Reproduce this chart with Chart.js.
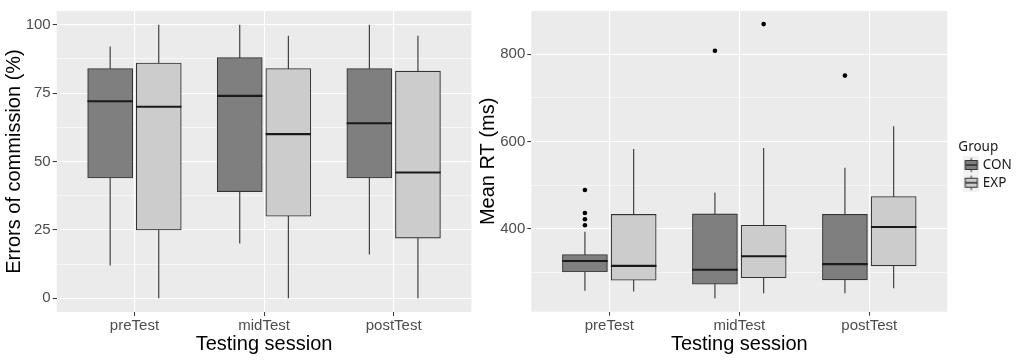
<!DOCTYPE html>
<html>
<head>
<meta charset="utf-8">
<script src="https://cdn.jsdelivr.net/npm/chart.js@4.4.1/dist/chart.umd.min.js"></script>
<style>
  html, body { margin: 0; padding: 0; background: #ffffff; width: 1021px; height: 363px; overflow: hidden; }
  #errChart { position: absolute; left: 0; top: 0; width: 475px; height: 363px; }
  #rtChart { position: absolute; left: 475px; top: 0; width: 546px; height: 363px; }
</style>
</head>
<body>
<canvas id="errChart" width="475" height="363"></canvas>
<canvas id="rtChart" width="546" height="363"></canvas>
<script>
// ---------------- DATA ----------------
const sessions = ['preTest', 'midTest', 'postTest'];
const groups = ['CON', 'EXP'];

// Panel 1: Errors of commission (%)
const errTicks = [0, 25, 50, 75, 100];
const errCON_low      = [12, 20, 16];
const errCON_q1       = [44, 39, 44];
const errCON_median   = [72, 74, 64];
const errCON_q3       = [84, 88, 84];
const errCON_high     = [92, 100, 100];
const errCON_outliers = [[], [], []];
const errEXP_low      = [0, 0, 0];
const errEXP_q1       = [25, 30, 22];
const errEXP_median   = [70, 60, 46];
const errEXP_q3       = [86, 84, 83];
const errEXP_high     = [100, 96, 96];
const errEXP_outliers = [[], [], []];

// Panel 2: Mean RT (ms)
const rtTicks = [400, 600, 800];
const rtCON_low      = [258, 241, 252];
const rtCON_q1       = [301, 273, 283];
const rtCON_median   = [326, 306, 319];
const rtCON_q3       = [341, 434, 433];
const rtCON_high     = [393, 483, 540];
const rtCON_outliers = [[489, 436, 422, 408], [808], [751]];
const rtEXP_low      = [256, 252, 264];
const rtEXP_q1       = [282, 288, 315];
const rtEXP_median   = [315, 337, 404];
const rtEXP_q3       = [433, 408, 474];
const rtEXP_high     = [583, 585, 635];
const rtEXP_outliers = [[], [869], []];

// ---------------- STYLE ----------------
const FONT = "'Liberation Sans', Arial, Helvetica, sans-serif";
const LEGEND_FONT = "'Noto Sans', 'Open Sans', sans-serif";
const FILLS = ['#7f7f7f', '#cccccc'];
const LINE = '#333333';
const DODGE = 0.1875;   // half of dodge width 0.375
const HALF = 0.175;     // half box width (0.35)

const panelBg = {
  id: 'panelBg',
  beforeDraw(chart) {
    const { ctx, chartArea: a } = chart;
    ctx.save();
    ctx.fillStyle = '#ebebeb';
    ctx.fillRect(a.left, a.top, a.right - a.left, a.bottom - a.top);
    ctx.restore();
  }
};

function makeGlyph(fill) {
  const c = document.createElement('canvas');
  c.width = 16; c.height = 18;
  const g = c.getContext('2d');
  g.fillStyle = '#f2f2f2';
  g.fillRect(0, 0, 16, 18);
  g.strokeStyle = LINE;
  g.lineWidth = 1;
  g.beginPath();
  g.moveTo(8, 1.8); g.lineTo(8, 4.5);
  g.moveTo(8, 13.5); g.lineTo(8, 16.2);
  g.stroke();
  g.fillStyle = fill;
  g.fillRect(1.6, 4.5, 12.8, 9);
  g.strokeRect(2, 4.5, 12, 9);
  g.lineWidth = 1.6;
  g.beginPath(); g.moveTo(2, 9); g.lineTo(14, 9); g.stroke();
  return c;
}

const groupLegend = {
  id: 'groupLegend',
  afterDraw(chart, args, o) {
    if (!o || !o.items) return;
    const ctx = chart.ctx;
    ctx.save();
    ctx.font = '13.5px ' + LEGEND_FONT;
    ctx.fillStyle = '#1a1a1a';
    ctx.textBaseline = 'middle';
    ctx.textAlign = 'left';
    ctx.fillText(o.title, o.x, o.titleY);
    o.items.forEach((it, i) => {
      const y = o.firstY + i * o.step;
      ctx.drawImage(it.glyph, o.x + o.keyDx, y - it.glyph.height / 2);
      ctx.fillText(it.text, o.x + o.textDx, y);
    });
    ctx.restore();
  }
};

function minorTicks(ticks, min, max) {
  const step = ticks[1] - ticks[0];
  const out = [];
  for (let v = ticks[0] - step / 2; v <= ticks[ticks.length - 1] + step / 2; v += step) {
    if (v >= min && v <= max) out.push(v);
  }
  return out;
}

function buildPanel(canvasId, p) {
  const datasets = [];
  p.groups.forEach((gr, g) => {
    const dx = g === 0 ? -DODGE : DODGE;
    const xs = sessions.map((s, i) => i + 1 + dx);
    datasets.push({
      type: 'line', order: 4,
      data: xs.flatMap((x, i) => [{ x, y: gr.low[i] }, { x, y: gr.high[i] }, { x, y: null }]),
      borderColor: LINE, borderWidth: 1.1, pointRadius: 0, spanGaps: false, fill: false
    });
    datasets.push({
      type: 'bar', order: 3,
      data: xs.map((x, i) => ({ x, y: [gr.q1[i], gr.q3[i]] })),
      backgroundColor: FILLS[g], borderColor: LINE, borderWidth: 1.1,
      borderSkipped: false, grouped: false, barThickness: p.barPx
    });
    datasets.push({
      type: 'line', order: 2,
      data: xs.flatMap((x, i) => [{ x: x - HALF, y: gr.median[i] }, { x: x + HALF, y: gr.median[i] }, { x: x + HALF, y: null }]),
      borderColor: '#1a1a1a', borderWidth: 2.1, pointRadius: 0, spanGaps: false, fill: false
    });
    datasets.push({
      type: 'scatter', order: 1,
      data: xs.flatMap((x, i) => gr.outliers[i].map(v => ({ x, y: v }))),
      pointRadius: 2.3, pointBackgroundColor: '#000', pointBorderWidth: 0, showLine: false
    });
  });

  const minors = minorTicks(p.ticks, p.min, p.max);
  const isMajor = v => p.ticks.includes(v);

  return new Chart(document.getElementById(canvasId), {
    type: 'bar',
    data: { datasets },
    plugins: [panelBg, groupLegend],
    options: {
      responsive: false,
      animation: false,
      events: [],
      layout: { padding: p.padding },
      plugins: {
        legend: { display: false },
        tooltip: { enabled: false },
        groupLegend: p.legend || {}
      },
      scales: {
        x: {
          type: 'linear', min: 0.4, max: 3.6, offset: false,
          grid: { offset: false, color: '#ffffff', lineWidth: 1.1, tickColor: LINE, tickLength: 4, tickWidth: 1 },
          border: { display: false },
          afterBuildTicks: s => { s.ticks = sessions.map((_, i) => ({ value: i + 1 })); },
          afterFit: s => { s.height = p.xAxisH; },
          ticks: {
            autoSkip: false, maxRotation: 0, padding: 1, color: '#4d4d4d',
            font: { family: FONT, size: 15 },
            callback: v => sessions[Math.round(v) - 1]
          },
          title: {
            display: true, text: 'Testing session', color: '#000',
            font: { family: FONT, size: 20 }, padding: { top: 0, bottom: 7 }
          }
        },
        y: {
          type: 'linear', min: p.min, max: p.max, beginAtZero: false,
          grid: {
            color: '#ffffff',
            lineWidth: c => (c.tick && isMajor(c.tick.value)) ? 1.1 : 0.55,
            tickColor: c => (c.tick && isMajor(c.tick.value)) ? LINE : 'rgba(0,0,0,0)',
            tickLength: 4, tickWidth: 1
          },
          border: { display: false },
          afterBuildTicks: s => {
            s.ticks = p.ticks.concat(minors).sort((a, b) => a - b).map(v => ({ value: v }));
          },
          afterFit: s => { s.width = p.yAxisW; },
          ticks: {
            autoSkip: false, padding: 2, color: '#4d4d4d',
            font: { family: FONT, size: 15 },
            callback: v => isMajor(v) ? String(v) : ''
          },
          title: {
            display: true, text: p.yTitle, color: '#000',
            font: { family: FONT, size: 20 }, padding: { top: p.yTitlePad, bottom: 0 }
          }
        }
      }
    }
  });
}

buildPanel('errChart', {
  yTitle: 'Errors of commission (%)',
  ticks: errTicks, min: -5, max: 105,
  barPx: 45,
  padding: { top: 9, right: 3.6, left: 0, bottom: 0 },
  yAxisW: 56.7, xAxisH: 51, yTitlePad: 2,
  groups: [
    { low: errCON_low, q1: errCON_q1, median: errCON_median, q3: errCON_q3, high: errCON_high, outliers: errCON_outliers },
    { low: errEXP_low, q1: errEXP_q1, median: errEXP_median, q3: errEXP_q3, high: errEXP_high, outliers: errEXP_outliers }
  ]
});

buildPanel('rtChart', {
  yTitle: 'Mean RT (ms)',
  ticks: rtTicks, min: 210, max: 899,
  barPx: 45,
  padding: { top: 7.3, right: 73.7, left: 0, bottom: 0 },
  yAxisW: 56.3, xAxisH: 51.3, yTitlePad: 1.3,
  groups: [
    { low: rtCON_low, q1: rtCON_q1, median: rtCON_median, q3: rtCON_q3, high: rtCON_high, outliers: rtCON_outliers },
    { low: rtEXP_low, q1: rtEXP_q1, median: rtEXP_median, q3: rtEXP_q3, high: rtEXP_high, outliers: rtEXP_outliers }
  ],
  legend: {
    title: 'Group', x: 483.3, titleY: 147, firstY: 165, step: 17.7, keyDx: 5, textDx: 24.5,
    items: groups.map((g, i) => ({ text: g, glyph: makeGlyph(FILLS[i]) }))
  }
});
</script>
</body>
</html>
